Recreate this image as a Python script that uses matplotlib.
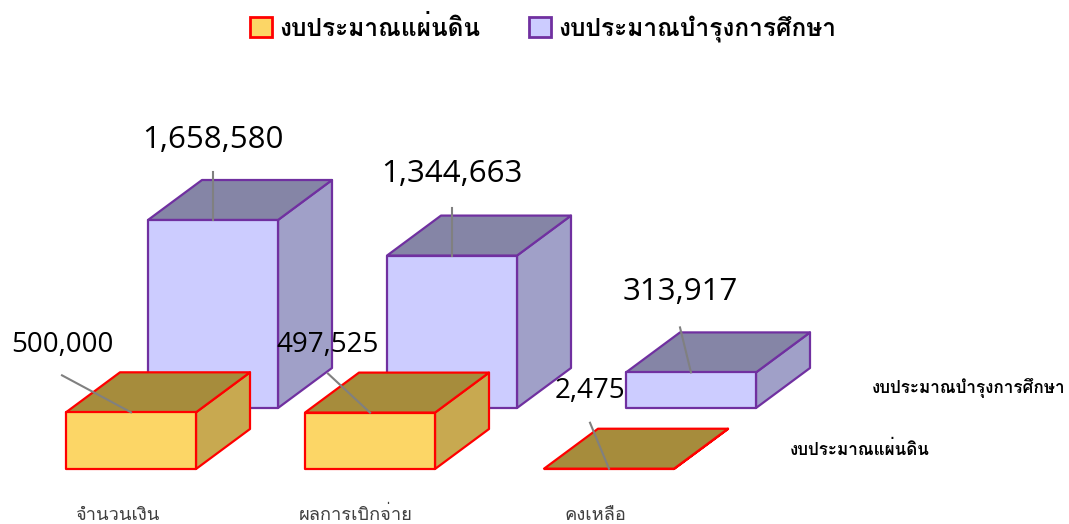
import numpy as np
import matplotlib.pyplot as plt
from matplotlib import font_manager
from matplotlib.ft2font import FT2Font
from matplotlib.patches import Polygon, Patch


categories = ["จำนวนเงิน", "ผลการเบิกจ่าย", "คงเหลือ"]
series_names = ["งบประมาณแผ่นดิน", "งบประมาณบำรุงการศึกษา"]
state_budget = [500000, 497525, 2475]
education_budget = [1658580, 1344663, 313917]


def thai_font():
    # premier fichier qui contient les glyphes thaï
    for f in font_manager.fontManager.ttflist:
        try:
            if 0x0E07 in FT2Font(f.fname).get_charmap():
                return f.name
        except Exception:
            pass
    return "DejaVu Sans"


THAI = thai_font()
NUM = "Open Sans"

# couleurs (face avant, dessus, côté, bord)
colors = [
    ("#FCD666", "#A68C3C", "#C8A950", "#FF0000"),
    ("#CCCCFF", "#8585A6", "#A0A0C8", "#7030A0"),
]

# géométrie de la projection oblique (unités = pixels)
x0, step, bar_w = 66, 239, 130
depth = np.array([54, -40])
series_shift = np.array([82, -61])
base_y = 469
px_per_unit = 188 / 1658580

label_off = [
    [(-69, -60, -69, -37), (-42, -61, -42, -39), (-19, -71, -19, -46)],
    [(0, -72, 0, -48), (0, -74, 0, -48), (-11, -72, -11, -45)],
]
label_size = [20, 22.5]

fig = plt.figure(figsize=(10.69, 5.24), dpi=100)
ax = fig.add_axes([0, 0, 1, 1])
ax.set_xlim(0, 1069)
ax.set_ylim(524, 0)
ax.axis("off")


def box(x, base, top, face, edge, z):
    dx, dy = depth
    front = [(x, base), (x + bar_w, base), (x + bar_w, top), (x, top)]
    dessus = [(x, top), (x + bar_w, top), (x + bar_w + dx, top + dy), (x + dx, top + dy)]
    cote = [(x + bar_w, base), (x + bar_w + dx, base + dy), (x + bar_w + dx, top + dy), (x + bar_w, top)]
    for pts, c in [(cote, face[2]), (dessus, face[1]), (front, face[0])]:
        ax.add_patch(Polygon(pts, closed=True, facecolor=c, edgecolor=edge, lw=1.6, joinstyle="round", zorder=z))


all_series = [state_budget, education_budget]
# série du fond d'abord
for s in [1, 0]:
    vals = all_series[s]
    sx, sy = series_shift * s
    for i, v in enumerate(vals):
        x = x0 + i * step + sx
        base = base_y + sy
        top = base - v * px_per_unit
        box(x, base, top, colors[s], colors[s][3], 2 - s)
        ax_x, ax_y = x + bar_w / 2, top
        tx, ty, lx, ly = label_off[s][i]
        ax.plot([ax_x + lx, ax_x], [ax_y + ly, ax_y], color="#808080", lw=1.5, zorder=5)
        ax.text(ax_x + tx, ax_y + ty, f"{v:,}", ha="center", va="baseline",
                fontsize=label_size[s], family=NUM, color="black", zorder=6)

# étiquettes des catégories
for i, c in enumerate(categories):
    ax.text(x0 + i * step + bar_w / 2 - 14, 515, c, ha="center", va="center",
            fontsize=13.2, family=THAI, color="#404040")

# étiquettes de profondeur (séries)
for s, name in enumerate(series_names):
    sx, sy = series_shift * s
    ax.text(790 + sx, base_y + sy - 20, name, ha="left", va="center",
            fontsize=12.3, family=THAI, fontweight="bold", color="black")

handles = [Patch(facecolor=colors[s][0], edgecolor=colors[s][3], lw=2) for s in range(2)]
fig.legend(handles, series_names, loc="center", bbox_to_anchor=(0.508, 0.945), ncol=2,
           frameon=False, prop={"family": THAI, "weight": "bold", "size": 17.6},
           handlelength=0.9, handleheight=0.9, handletextpad=0.3, columnspacing=2.0)

fig.savefig("out.png", dpi=100)
